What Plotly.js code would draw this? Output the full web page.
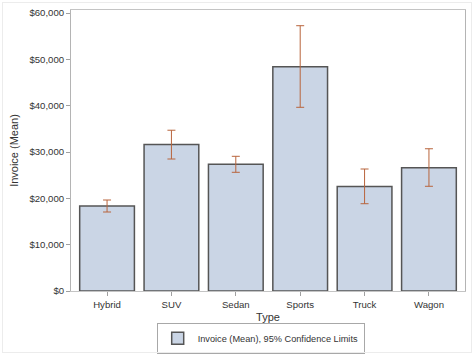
<!DOCTYPE html>
<html>
<head>
<meta charset="utf-8">
<script src="https://cdn.plot.ly/plotly-3.0.1.min.js"></script>
<style>
html,body{margin:0;padding:0;background:#fff;}
#wrap{position:relative;width:474px;height:355px;}
#chart{width:474px;height:355px;}
#frame{position:absolute;left:2px;top:2px;width:470px;height:351px;border:1px solid #ececec;box-sizing:border-box;pointer-events:none;}
</style>
</head>
<body>
<div id="wrap"><div id="chart"></div><div id="frame"></div></div>
<script>
var types = ["Hybrid", "SUV", "Sedan", "Sports", "Truck", "Wagon"];
var meanInvoice = [18350, 31600, 27350, 48400, 22550, 26600];
var upperCL = [19640, 34700, 29070, 57260, 26330, 30700];
var lowerCL = [17050, 28490, 25620, 39650, 18840, 22600];
var yTicks = [0, 10000, 20000, 30000, 40000, 50000, 60000];
var yTickText = yTicks.map(function(v){ return '$' + v.toLocaleString('en-US'); });

var plus = upperCL.map(function(u, i){ return u - meanInvoice[i]; });
var minus = lowerCL.map(function(l, i){ return meanInvoice[i] - l; });

var trace = {
  type: 'bar',
  x: types,
  y: meanInvoice,
  name: 'Invoice (Mean), 95% Confidence Limits',
  width: 0.85,
  marker: {color: '#CAD5E5', line: {color: '#555555', width: 1.5}},
  error_y: {type: 'data', symmetric: false, array: plus, arrayminus: minus,
            color: '#B8643C', thickness: 1, width: 4},
  showlegend: true,
  hoverinfo: 'skip'
};

var fam = '"Liberation Sans", Arial, sans-serif';
var tickFont = {family: fam, size: 9.6, color: '#333'};
var titleFont = {family: fam, size: 11, color: '#333'};

var layout = {
  width: 474, height: 355,
  margin: {l: 71, r: 9, t: 10, b: 64, pad: 0, autoexpand: false},
  paper_bgcolor: '#fff', plot_bgcolor: '#fff',
  font: tickFont,
  xaxis: {
    type: 'category',
    range: [-0.56, 5.56],
    showgrid: false, zeroline: false,
    showline: true, linecolor: '#c4c4c4', linewidth: 1, mirror: true,
    ticks: 'outside', ticklen: 4, tickcolor: '#a0a0a0',
    tickfont: tickFont,
    automargin: false,
    title: {text: 'Type', font: titleFont, standoff: 4}
  },
  yaxis: {
    range: [0, 60650],
    tickmode: 'array',
    tickvals: yTicks,
    ticktext: yTickText,
    showgrid: false, zeroline: false,
    showline: true, linecolor: '#b4b4b4', linewidth: 1, mirror: true,
    ticks: 'outside', ticklen: 4, tickcolor: '#a0a0a0',
    tickfont: tickFont,
    automargin: false,
    title: {text: 'Invoice (Mean)', font: titleFont, standoff: 8}
  },
  showlegend: true,
  legend: {
    orientation: 'v', xref: 'container', yref: 'container',
    x: 0.55, xanchor: 'center', y: 0.047, yanchor: 'middle',
    bordercolor: '#a8a8a8', borderwidth: 1, bgcolor: '#fff',
    font: {family: fam, size: 9.2, color: '#333'},
    itemwidth: 30, tracegroupgap: 0
  }
};

Plotly.newPlot('chart', [trace], layout, {displayModeBar: false, staticPlot: true});
</script>
</body>
</html>
